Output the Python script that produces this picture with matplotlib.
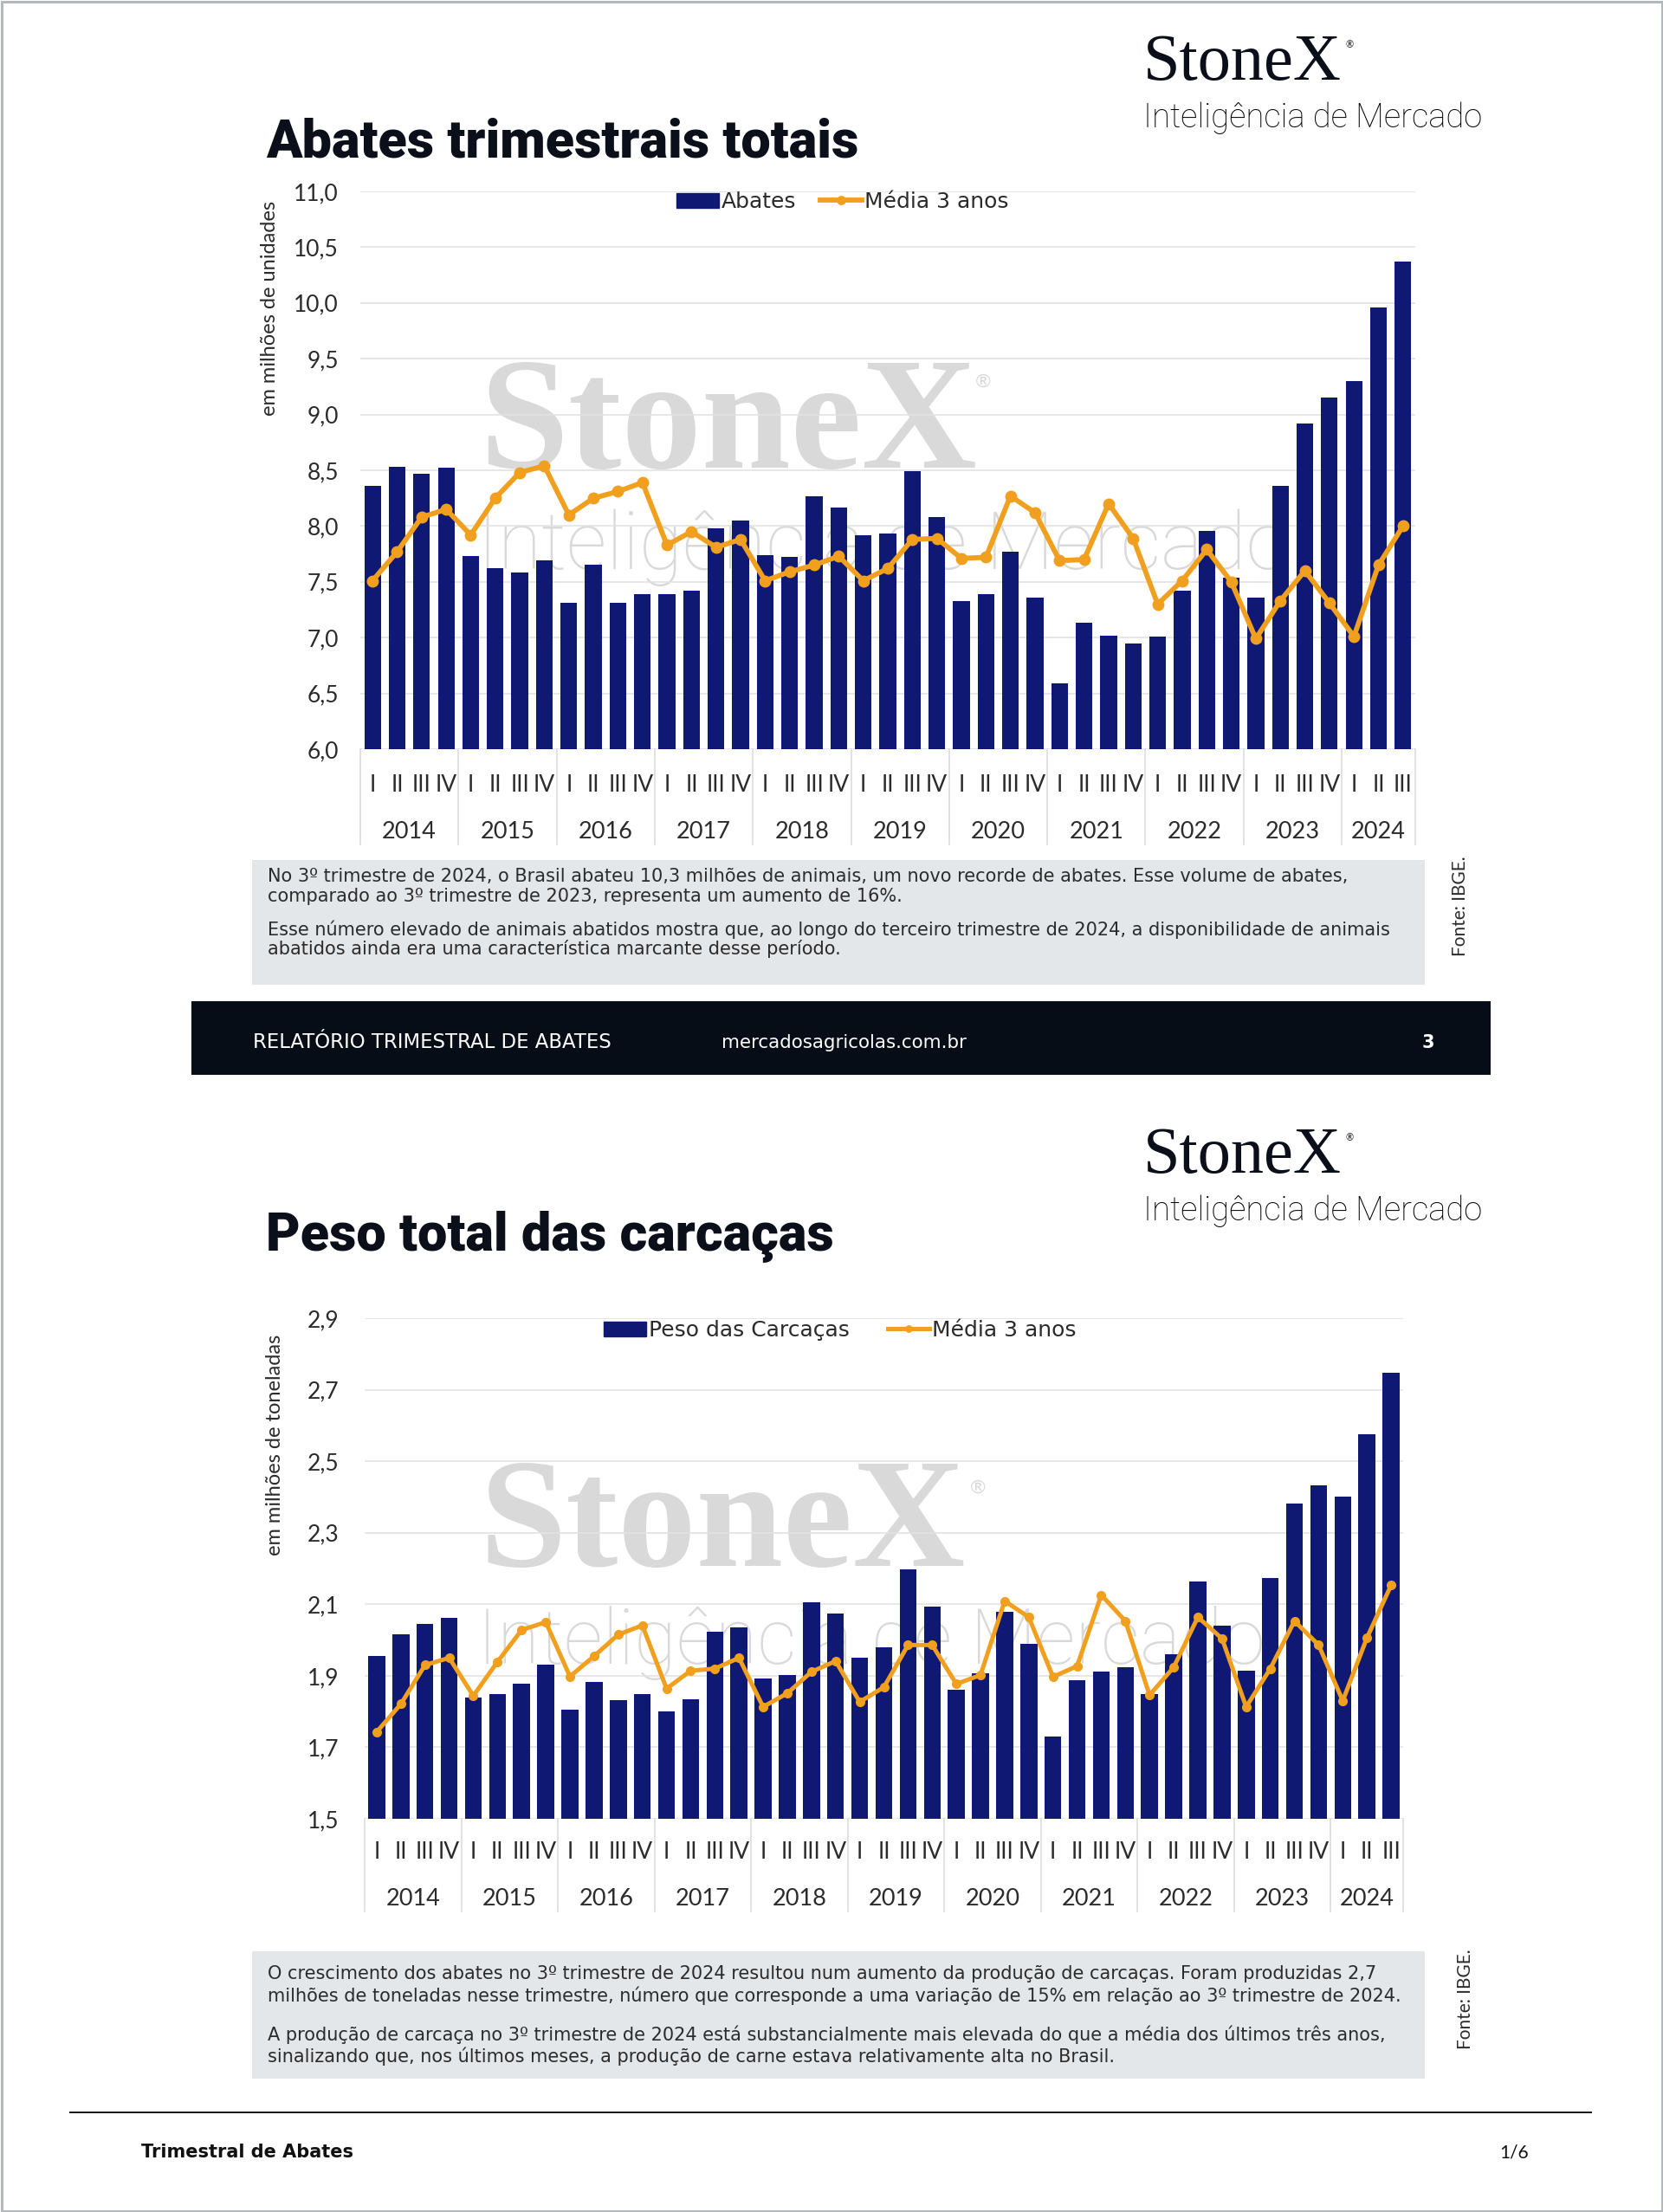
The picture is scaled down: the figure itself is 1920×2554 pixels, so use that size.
import matplotlib
matplotlib.use("Agg")
import matplotlib.pyplot as plt
import numpy as np
from matplotlib.patches import Rectangle
from matplotlib.lines import Line2D
from matplotlib.transforms import blended_transform_factory

# ---------------- data ----------------
years = ["2014", "2015", "2016", "2017", "2018", "2019", "2020", "2021", "2022", "2023", "2024"]
quarters = ["I", "II", "III", "IV"]

abates = [8.36, 8.53, 8.47, 8.52,
          7.73, 7.62, 7.58, 7.69,
          7.31, 7.65, 7.31, 7.39,
          7.39, 7.42, 7.98, 8.05,
          7.74, 7.72, 8.27, 8.17,
          7.92, 7.93, 8.49, 8.08,
          7.33, 7.39, 7.77, 7.36,
          6.59, 7.13, 7.02, 6.95,
          7.01, 7.42, 7.96, 7.54,
          7.36, 8.36, 8.92, 9.15,
          9.30, 9.96, 10.37]
abates_media = [7.51, 7.77, 8.08, 8.15,
                7.92, 8.25, 8.48, 8.54,
                8.10, 8.25, 8.31, 8.39,
                7.83, 7.95, 7.81, 7.88,
                7.51, 7.59, 7.65, 7.73,
                7.51, 7.62, 7.88, 7.89,
                7.71, 7.72, 8.27, 8.12,
                7.69, 7.70, 8.20, 7.89,
                7.30, 7.51, 7.79, 7.50,
                6.99, 7.33, 7.60, 7.31,
                7.01, 7.65, 8.00]
peso = [1.955, 2.015, 2.044, 2.061,
        1.838, 1.850, 1.879, 1.931,
        1.805, 1.882, 1.831, 1.850,
        1.801, 1.834, 2.022, 2.035,
        1.892, 1.903, 2.106, 2.073,
        1.950, 1.980, 2.198, 2.093,
        1.860, 1.908, 2.078, 1.989,
        1.731, 1.888, 1.911, 1.925,
        1.849, 1.959, 2.164, 2.039,
        1.913, 2.173, 2.382, 2.433,
        2.400, 2.576, 2.747]
peso_media = [1.743, 1.821, 1.930, 1.950,
              1.844, 1.939, 2.028, 2.050,
              1.898, 1.955, 2.015, 2.041,
              1.864, 1.914, 1.920, 1.950,
              1.813, 1.851, 1.911, 1.941,
              1.827, 1.868, 1.986, 1.986,
              1.877, 1.902, 2.109, 2.064,
              1.897, 1.927, 2.126, 2.053,
              1.846, 1.924, 2.064, 2.004,
              1.813, 1.920, 2.053, 1.986,
              1.830, 2.006, 2.153]

texto1 = ["No 3º trimestre de 2024, o Brasil abateu 10,3 milhões de animais, um novo recorde de abates. Esse volume de abates,",
          "comparado ao 3º trimestre de 2023, representa um aumento de 16%.",
          "Esse número elevado de animais abatidos mostra que, ao longo do terceiro trimestre de 2024, a disponibilidade de animais",
          "abatidos ainda era uma característica marcante desse período."]
texto2 = ["O crescimento dos abates no 3º trimestre de 2024 resultou num aumento da produção de carcaças. Foram produzidas 2,7",
          "milhões de toneladas nesse trimestre, número que corresponde a uma variação de 15% em relação ao 3º trimestre de 2024.",
          "A produção de carcaça no 3º trimestre de 2024 está substancialmente mais elevada do que a média dos últimos três anos,",
          "sinalizando que, nos últimos meses, a produção de carne estava relativamente alta no Brasil."]

# ---------------- style ----------------
W, H, DPI = 1920, 2554, 100
NAVY = "#0f1872"
ORANGE = "#f0a01e"
WM = "#d9d9d9"
TXT = "#2b2b2b"
FONT = ["Lato", "DejaVu Sans"]
WIDE = ["DejaVu Sans"]
PT = 72.0 / DPI  # points per pixel

fig = plt.figure(figsize=(W / DPI, H / DPI), dpi=DPI)
fig.patch.set_facecolor("white")

bg = fig.add_axes([0, 0, 1, 1], zorder=0)
bg.set_xlim(0, W)
bg.set_ylim(H, 0)
bg.axis("off")

# page border
bg.add_patch(Rectangle((1.5, 1.5), W - 3, H - 3, fill=False, edgecolor="#b3b7be", lw=3 * PT))


def header(dy, title):
    bg.text(307, 182 + dy, title, fontsize=44, family=["Roboto", "DejaVu Sans"], fontweight="black",
            color="#0b0f19", va="baseline", ha="left")
    bg.text(1320, 92 + dy, "StoneX", fontsize=55, family=["Liberation Serif", "DejaVu Serif"],
            color="#0b0f19", va="baseline", ha="left")
    bg.text(1553, 52 + dy, "®", fontsize=8, family=FONT, color="#0b0f19", va="center", ha="left")
    bg.text(1320, 147 + dy, "Inteligência de Mercado", fontsize=27.5, family=["Roboto", "DejaVu Sans"],
            fontweight="light", color="#000000", va="baseline", ha="left")


def watermark(x0, base1, fs1, reg_xy, base2, fs2):
    bg.text(x0, base1, "StoneX", fontsize=fs1, family=["Liberation Serif", "DejaVu Serif"],
            fontweight="bold", color=WM, va="baseline", ha="left")
    bg.text(reg_xy[0], reg_xy[1], "®", fontsize=16, family=FONT, color=WM, va="center", ha="left")
    bg.text(x0 - 2, base2, "Inteligência de Mercado", fontsize=fs2, family=["Roboto", "DejaVu Sans"],
            fontweight="light", color=WM, va="baseline", ha="left")


def chart(l, t, r, b, vals, media, ymin, ymax, ystep, leg_labels, leg_c, colsp,
          bar_w, lw, ms, q_y, yr_y, sep_b, lab_right):
    ax = fig.add_axes([l / W, 1 - b / H, (r - l) / W, (b - t) / H], zorder=1)
    ax.set_facecolor("none")
    n = len(vals)
    x = np.arange(n)
    ax.bar(x, vals, width=bar_w, color=NAVY, zorder=3)
    ax.plot(x, media, color=ORANGE, lw=lw, marker="o", ms=ms, zorder=4,
            solid_joinstyle="round", solid_capstyle="round")
    ax.set_xlim(-0.5, n - 0.5)
    ax.set_ylim(ymin, ymax)
    ticks = np.round(np.arange(ymin, ymax + ystep / 2, ystep), 3)
    ax.set_yticks(ticks)
    ax.set_yticklabels([f"{v:.1f}".replace(".", ",") for v in ticks])
    ax.yaxis.grid(True, color="#e2e2e2", lw=1.6 * PT)
    ax.set_axisbelow(True)
    ax.set_xticks([])
    for s in ax.spines.values():
        s.set_visible(False)
    ax.tick_params(axis="y", length=0, pad=(l - lab_right) * PT, labelsize=19, labelcolor=TXT)
    for lab in ax.get_yticklabels():
        lab.set_family(FONT)

    tr = blended_transform_factory(ax.transData, bg.transData)
    for i in range(n):
        ax.text(i, q_y, quarters[i % 4], transform=tr, ha="center", va="center",
                fontsize=19, family=FONT, color=TXT, clip_on=False)
    for k, yr in enumerate(years):
        s = 4 * k
        e = min(4 * k + 3, n - 1)
        ax.text((s + e) / 2, yr_y, yr, transform=tr, ha="center", va="center",
                fontsize=19.5, family=FONT, color=TXT, clip_on=False)
    seps = [-0.5 + 4 * k for k in range(len(years))] + [n - 0.5]
    for sx in seps:
        ax.plot([sx, sx], [b, sep_b], transform=tr, color="#d9d9d9", lw=1.5 * PT, clip_on=False)

    handles = [Rectangle((0, 0), 1, 1, color=NAVY),
               Line2D([], [], color=ORANGE, lw=lw, marker="o", ms=ms * 0.75)]
    leg = ax.legend(handles, leg_labels, loc="center", bbox_to_anchor=(leg_c[0] / W, 1 - leg_c[1] / H),
                    bbox_transform=fig.transFigure, ncol=2, frameon=False,
                    prop={"family": WIDE, "size": 18}, handlelength=1.95, handleheight=0.65,
                    handletextpad=0.12, columnspacing=colsp, borderpad=0)
    for tx in leg.get_texts():
        tx.set_color(TXT)
    return ax


# ---------------- section 1 ----------------
header(0, "Abates trimestrais totais")
watermark(553, 540, 133, (1126, 441), 657, 66)
bg.text(312, 356, "em milhões de unidades", rotation=90, fontsize=17, family=FONT, color=TXT,
        ha="center", va="center")
chart(416, 221, 1634, 865, abates, abates_media, 6.0, 11.0, 0.5,
      ["Abates", "Média 3 anos"], (973, 233), 1.1,
      0.68, 4.2, 9, 906, 961, 975, 391)

bg.add_patch(Rectangle((291, 993), 1645 - 291, 1137 - 993, facecolor="#e4e7ea", edgecolor="none"))
for txt, yy in zip(texto1, [1012, 1035, 1073, 1096]):
    bg.text(309, yy, txt, fontsize=15, family=WIDE, color=TXT, ha="left", va="center")
bg.text(1686, 1046, "Fonte: IBGE.", rotation=90, fontsize=15, family=FONT, color=TXT,
        ha="center", va="center")

bg.add_patch(Rectangle((221, 1156), 1721 - 221, 1241 - 1156, facecolor="#070d17", edgecolor="none"))
bg.text(292, 1204, "RELATÓRIO TRIMESTRAL DE ABATES", fontsize=16.4, family=WIDE, color="white",
        ha="left", va="center")
bg.text(833, 1204, "mercadosagricolas.com.br", fontsize=15.4, family=WIDE, color="white",
        ha="left", va="center")
bg.text(1649, 1204, "3", fontsize=15, family=WIDE, fontweight="bold", color="white",
        ha="center", va="center")

# ---------------- section 2 ----------------
header(1262, "Peso total das carcaças")
watermark(553, 1808, 130, (1120, 1718), 1921, 64)
bg.text(317, 1668, "em milhões de toneladas", rotation=90, fontsize=17, family=FONT, color=TXT,
        ha="center", va="center")
chart(421, 1522, 1620, 2100, peso, peso_media, 1.5, 2.9, 0.2,
      ["Peso das Carcaças", "Média 3 anos"], (970, 1536), 1.75,
      0.70, 3.6, 7, 2138, 2192, 2207, 391)

bg.add_patch(Rectangle((291, 2253), 1645 - 291, 2400 - 2253, facecolor="#e4e7ea", edgecolor="none"))
for txt, yy in zip(texto2, [2279, 2304, 2349, 2374]):
    bg.text(309, yy, txt, fontsize=15, family=WIDE, color=TXT, ha="left", va="center")
bg.text(1692, 2308, "Fonte: IBGE.", rotation=90, fontsize=15, family=FONT, color=TXT,
        ha="center", va="center")

# bottom footer
bg.plot([81, 1837], [2439, 2439], color="#1a1a1a", lw=2 * PT)
bg.text(163, 2485, "Trimestral de Abates", fontsize=15, family=WIDE, fontweight="bold", color="#111111",
        ha="left", va="center")
bg.text(1731, 2485, "1/6", fontsize=15, family=FONT, color="#111111", ha="left", va="center")

fig.savefig("out.png", dpi=DPI, facecolor="white")
